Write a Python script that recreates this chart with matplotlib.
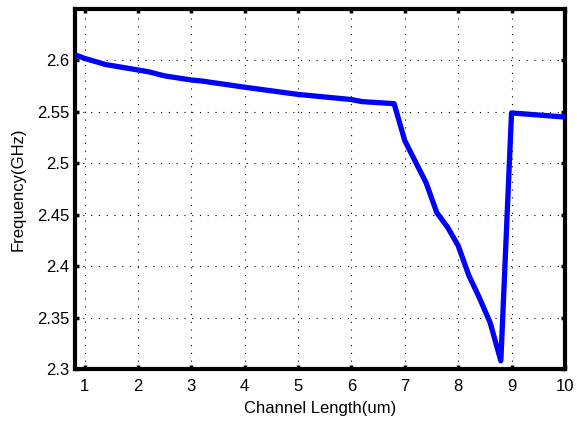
import numpy as np
import matplotlib
matplotlib.use('Agg')
import matplotlib.pyplot as plt

# channel length (um) vs oscillation frequency (GHz)
length_um = [0.8, 1.0, 1.4, 2.2, 2.5, 3.0, 3.2, 4.0, 5.0, 6.0, 6.2, 6.8,
             7.0, 7.4, 7.6, 7.8, 8.0, 8.2, 8.4, 8.6, 8.8, 9.0, 10.0]
freq_ghz = [2.606, 2.602, 2.596, 2.589, 2.585, 2.581, 2.580, 2.574, 2.567,
            2.562, 2.560, 2.558, 2.522, 2.481, 2.452, 2.438, 2.420, 2.391,
            2.369, 2.345, 2.308, 2.549, 2.545]

xticks = [1, 2, 3, 4, 5, 6, 7, 8, 9, 10]
yticks = [2.3, 2.35, 2.4, 2.45, 2.5, 2.55, 2.6]
yticklabels = ['2.3', '2.35', '2.4', '2.45', '2.5', '2.55', '2.6']


def main():
    plt.rcParams['font.family'] = ['Liberation Sans', 'DejaVu Sans']

    fig = plt.figure(figsize=(5.77, 4.21), dpi=100)
    ax = fig.add_axes([0.130, 0.1235, 0.849, 0.855])

    ax.plot(length_um, freq_ghz, color='#0000ff', linewidth=3.8,
            solid_joinstyle='round', zorder=3)

    ax.set_xlim(0.82, 10)
    ax.set_ylim(2.3, 2.65)
    ax.set_xticks(xticks)
    ax.set_yticks(yticks)
    ax.set_yticklabels(yticklabels)

    ax.grid(True, color='black', linestyle=(0, (1, 6)), linewidth=0.8)
    ax.tick_params(direction='in', length=3, width=2.5, top=True, right=True,
                   labelsize=12, colors='black')
    ax.tick_params(axis='x', pad=7)
    ax.tick_params(axis='y', pad=4)

    for sp in ax.spines.values():
        sp.set_linewidth(3)
        sp.set_color('black')

    ax.set_xlabel('Channel Length(um)', fontsize=12, labelpad=5)
    ax.set_ylabel('Frequency(GHz)', fontsize=12, labelpad=8)

    fig.savefig('out.png', dpi=100)


if __name__ == '__main__':
    main()
